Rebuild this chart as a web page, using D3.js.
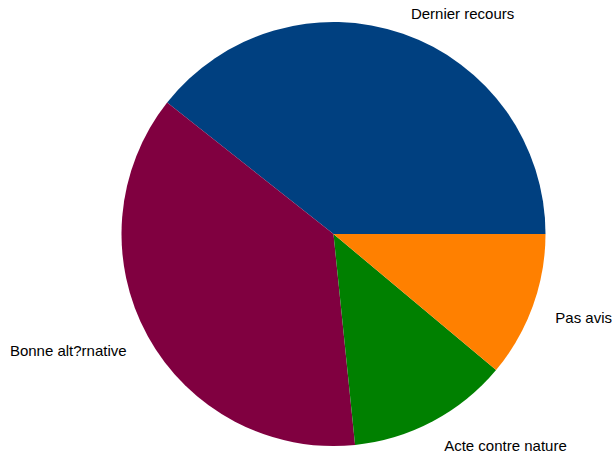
<!DOCTYPE html>
<html>
<head>
<meta charset="utf-8">
<script src="https://cdn.jsdelivr.net/npm/d3@7"></script>
<style>
  body { margin: 0; background: #fff; }
  text { font-family: "Liberation Sans", Arial, sans-serif; font-size: 15px; fill: #000; }
</style>
</head>
<body>
<div id="chart"></div>
<script>
// Data (shares in %)
const categories = ["Dernier recours", "Bonne alt?rnative", "Acte contre nature", "Pas avis"];
const values = [39.4, 37.3, 12.3, 11.1];
const colors = ["#004080", "#800040", "#008000", "#ff8000"];

const width = 612;
const height = 453;
const cx = 333.5, cy = 234;
const radius = 212;
const labelRadius = 236;

const svg = d3.select("#chart")
    .append("svg")
    .attr("width", width)
    .attr("height", height);

const g = svg.append("g")
    .attr("transform", `translate(${cx},${cy})`);

// first slice starts at 3 o'clock and runs counter-clockwise
const pie = d3.pie()
    .sort(null)
    .startAngle(Math.PI / 2)
    .endAngle(Math.PI / 2 - 2 * Math.PI);

const arc = d3.arc().innerRadius(0).outerRadius(radius);

const slices = pie(values);

g.selectAll("path")
    .data(slices)
    .enter()
    .append("path")
    .attr("d", arc)
    .attr("fill", (d, i) => colors[i]);

const mid = d => (d.startAngle + d.endAngle) / 2;

g.selectAll("text")
    .data(slices)
    .enter()
    .append("text")
    .attr("x", d => Math.sin(mid(d)) * labelRadius)
    .attr("y", d => -Math.cos(mid(d)) * labelRadius)
    .attr("dy", "0.55em")
    .attr("text-anchor", d => Math.sin(mid(d)) < 0 ? "end" : "start")
    .text((d, i) => categories[i]);
</script>
</body>
</html>
